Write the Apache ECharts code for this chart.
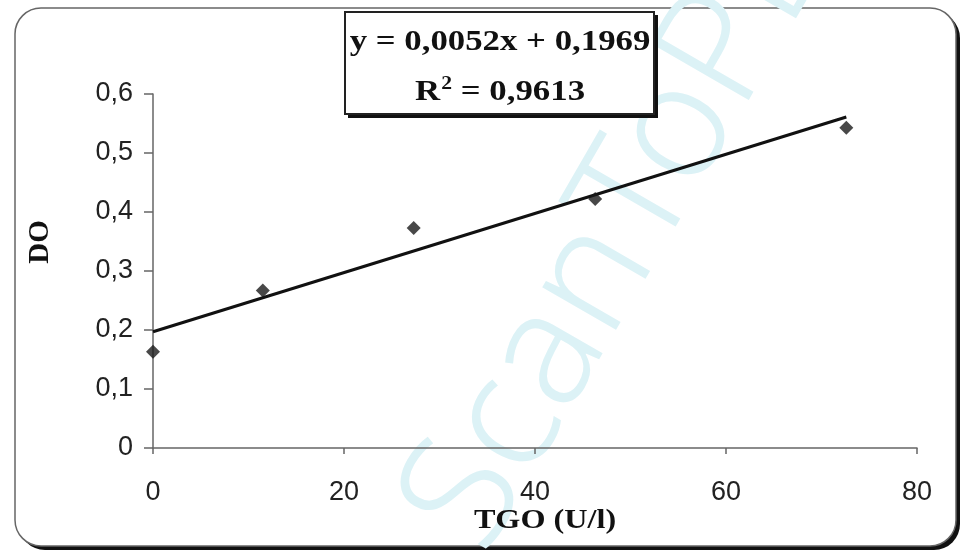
<!DOCTYPE html>
<html>
<head>
<meta charset="utf-8">
<script src="https://cdn.jsdelivr.net/npm/echarts@6/dist/echarts.min.js"></script>
<style>html,body{margin:0;padding:0;background:#fff;}#c{width:964px;height:555px;}</style>
</head>
<body>
<div id="c"></div>
<script>
// Data
var tgo = [0, 11.5, 27.3, 46.3, 72.6];
var doValues = [0.163, 0.267, 0.373, 0.422, 0.543];
var trendX = [0, 72.6];
var trendY = [0.197, 0.561];
var xTicks = [0, 20, 40, 60, 80];
var yTicks = [0, 0.1, 0.2, 0.3, 0.4, 0.5, 0.6];
var equationLine = 'y = 0,0052x + 0,1969';
var r2Value = ' = 0,9613';
var xTitle = 'TGO (U/l)';
var yTitle = 'DO';
var watermark = 'ScanToPDF';

var chart = echarts.init(document.getElementById('c'));
var fmt = function (v) { return String(Math.round(v * 10) / 10).replace('.', ','); };
var serifBold = '"Liberation Serif", "Times New Roman", serif';

chart.setOption({
  backgroundColor: '#fff',
  animation: false,
  grid: { left: 153, right: 47, top: 94, bottom: 107 },
  xAxis: {
    type: 'value', min: xTicks[0], max: xTicks[xTicks.length - 1], interval: 20,
    splitLine: { show: false },
    axisLine: { lineStyle: { color: '#666', width: 1.5 } },
    axisTick: { show: true, length: 6, lineStyle: { color: '#666', width: 1.5 } },
    axisLabel: { margin: 31, color: '#222', fontSize: 27, fontFamily: 'Liberation Sans, Arial' }
  },
  yAxis: {
    type: 'value', min: yTicks[0], max: yTicks[yTicks.length - 1], interval: 0.1,
    splitLine: { show: false },
    axisLine: { show: true, lineStyle: { color: '#666', width: 1.5 } },
    axisTick: { show: true, length: 9, lineStyle: { color: '#666', width: 1.5 } },
    axisLabel: { margin: 20, color: '#222', fontSize: 27, fontFamily: 'Liberation Sans, Arial', formatter: fmt }
  },
  graphic: [
    { type: 'rect', z: -10, shape: { x: 19, y: 12, width: 941, height: 538, r: 26 }, style: { fill: '#111' } },
    { type: 'rect', z: -9, shape: { x: 15, y: 8, width: 941, height: 538, r: 26 }, style: { fill: '#fff', stroke: '#666', lineWidth: 1.5 } },
    { type: 'text', z: -8, x: 445, y: 535, rotation: 60 * Math.PI / 180,
      style: { text: watermark, fill: '#dcf2f6', font: '300 160px "Noto Sans", "DejaVu Sans"', textAlign: 'left', textVerticalAlign: 'middle' } },
    { type: 'rect', z: 10, shape: { x: 348, y: 15, width: 310, height: 103 }, style: { fill: '#111' } },
    { type: 'rect', z: 11, shape: { x: 345, y: 12, width: 309, height: 102 }, style: { fill: '#fff', stroke: '#222', lineWidth: 2 } },
    { type: 'text', z: 12, x: 500, y: 43, scaleX: 1.2,
      style: { text: equationLine, fill: '#111', font: 'bold 29px ' + serifBold, textAlign: 'center', textVerticalAlign: 'middle' } },
    { type: 'text', z: 12, x: 500, y: 91, scaleX: 1.2,
      style: { text: '{r|R}{s|2}{r|' + r2Value + '}', textAlign: 'center', textVerticalAlign: 'middle',
        rich: {
          r: { fill: '#111', font: 'bold 29px ' + serifBold, verticalAlign: 'bottom' },
          s: { fill: '#111', font: 'bold 18px ' + serifBold, verticalAlign: 'top', padding: [0, 0, 14, 1] }
        } } },
    { type: 'text', z: 5, x: 41, y: 242, rotation: Math.PI / 2,
      style: { text: yTitle, fill: '#111', font: 'bold 29px ' + serifBold, textAlign: 'center', textVerticalAlign: 'middle' } },
    { type: 'text', z: 5, x: 545, y: 521, scaleX: 1.15,
      style: { text: xTitle, fill: '#111', font: 'bold 28px ' + serifBold, textAlign: 'center', textVerticalAlign: 'middle' } }
  ],
  series: [
    {
      type: 'line', data: trendX.map(function (x, i) { return [x, trendY[i]]; }),
      showSymbol: false, symbol: 'none', lineStyle: { color: '#111', width: 3 }, z: 3
    },
    {
      type: 'scatter', data: tgo.map(function (x, i) { return [x, doValues[i]]; }),
      symbol: 'diamond', symbolSize: 14, itemStyle: { color: '#1a1a1a' }, z: 4
    }
  ]
});
</script>
</body>
</html>
